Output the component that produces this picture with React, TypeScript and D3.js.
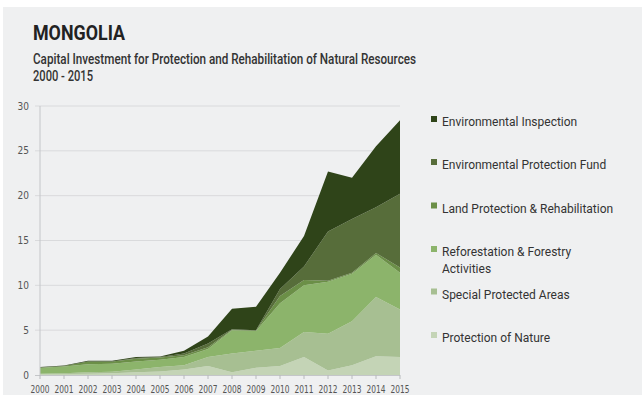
import React from 'react';
import * as d3 from 'd3';

const years = [2000, 2001, 2002, 2003, 2004, 2005, 2006, 2007, 2008, 2009, 2010, 2011, 2012, 2013, 2014, 2015];
const protectionOfNature = [0.1, 0.1, 0.15, 0.2, 0.3, 0.4, 0.6, 1.0, 0.3, 0.8, 1.0, 2.0, 0.5, 1.1, 2.1, 2.0];
const specialProtectedAreas = [0.05, 0.1, 0.15, 0.15, 0.3, 0.5, 0.5, 1.0, 2.1, 1.9, 2.0, 2.8, 4.1, 4.9, 6.6, 5.3];
const reforestation = [0.65, 0.75, 0.9, 0.9, 0.9, 0.8, 0.9, 0.9, 2.6, 2.2, 5.0, 5.2, 5.8, 5.3, 4.7, 4.1];
const landProtection = [0.05, 0.05, 0.3, 0.25, 0.3, 0.25, 0.2, 0.2, 0.05, 0.05, 0.8, 0.6, 0.1, 0.1, 0.2, 0.6];
const protectionFund = [0, 0, 0, 0, 0.1, 0.05, 0.2, 0.4, 0.05, 0.05, 0.8, 1.5, 5.5, 6.0, 5.1, 8.2];
const inspection = [0.05, 0.05, 0.1, 0.1, 0.1, 0.05, 0.3, 0.8, 2.3, 2.6, 1.8, 3.4, 6.7, 4.6, 6.8, 8.2];

const yTicks = [0, 5, 10, 15, 20, 25, 30];

// bottom -> top
const seriesKeys = ['nature', 'special', 'reforest', 'land', 'fund', 'inspection'];
const seriesColors = ['#c4d4b6', '#a7bf92', '#8cb46b', '#6b8f47', '#576d3a', '#2f4419'];
// legend, top -> bottom
const legendLabels = [
  ['Environmental Inspection'],
  ['Environmental Protection Fund'],
  ['Land Protection & Rehabilitation'],
  ['Reforestation & Forestry', 'Activities'],
  ['Special Protected Areas'],
  ['Protection of Nature'],
];
const legendColors = ['#2f4419', '#576d3a', '#6b8f47', '#8cb46b', '#a7bf92', '#c4d4b6'];

export default function App() {
  const W = 642;
  const H = 395;
  const x = d3.scaleLinear().domain([2000, 2015]).range([40, 400]);
  const y = d3.scaleLinear().domain([0, 30]).range([375, 106]);

  const rows = years.map((yr, i) => ({
    year: yr,
    nature: protectionOfNature[i],
    special: specialProtectedAreas[i],
    reforest: reforestation[i],
    land: landProtection[i],
    fund: protectionFund[i],
    inspection: inspection[i],
  }));
  const stacked = d3.stack<any>().keys(seriesKeys)(rows);
  const area = d3
    .area<any>()
    .x((d: any) => x(d.data.year))
    .y0((d: any) => y(d[0]))
    .y1((d: any) => y(d[1]));

  const sans = 'Roboto, "Noto Sans", sans-serif';
  const narrow = '"Liberation Sans Narrow", "DejaVu Sans Condensed", Roboto, sans-serif';
  const legendY = [116, 159, 202.5, 246, 288.5, 332];

  return (
    <svg
      width={W}
      height={H}
      style={{ position: 'absolute', left: 0, top: 0, display: 'block' }}
    >
      <rect x={0} y={0} width={W} height={H} fill="#ffffff" />
      <rect x={3} y={7} width={W - 3} height={H - 7} fill="#eff0f1" />

      <text x={33} y={40} fontFamily={sans} fontWeight={700} fontSize={21} fill="#222" textLength={92} lengthAdjust="spacingAndGlyphs">
        MONGOLIA
      </text>
      <text x={33} y={63.5} fontFamily={sans} fontWeight={500} fontSize={14} fill="#333" textLength={383} lengthAdjust="spacingAndGlyphs">
        Capital Investment for Protection and Rehabilitation of Natural Resources
      </text>
      <text x={33} y={80.5} fontFamily={sans} fontWeight={500} fontSize={14} fill="#333" textLength={60} lengthAdjust="spacingAndGlyphs">
        2000 - 2015
      </text>

      {/* gridlines */}
      {yTicks.filter((t) => t > 0).map((t) => (
        <line key={'g' + t} x1={35} x2={400} y1={y(t)} y2={y(t)} stroke="#d9dadc" strokeWidth={1} />
      ))}
      {yTicks.map((t) => (
        <text key={'yl' + t} x={29} y={y(t) + 3.5} textAnchor="end" fontFamily={narrow} fontSize={10} fill="#555">
          {t}
        </text>
      ))}

      {/* areas */}
      {stacked.map((s, i) => (
        <path key={s.key} d={area(s as any) || ''} fill={seriesColors[i]} />
      ))}

      {/* axes */}
      <line x1={40} x2={40} y1={106} y2={375} stroke="#c4c6c9" strokeWidth={1} />
      <line x1={35} x2={400} y1={375.5} y2={375.5} stroke="#c4c6c9" strokeWidth={1} />
      {years.map((yr) => (
        <g key={'x' + yr}>
          <line x1={x(yr)} x2={x(yr)} y1={375} y2={379} stroke="#b8babd" strokeWidth={1} />
          <text x={x(yr) - 9.5} y={392.5} fontFamily={narrow} fontSize={11} fill="#555" textLength={19} lengthAdjust="spacingAndGlyphs">
            {yr}
          </text>
        </g>
      ))}

      {/* legend */}
      {legendLabels.map((lines, i) => (
        <g key={'lg' + i}>
          <rect x={431} y={legendY[i]} width={6} height={6} fill={legendColors[i]} />
          {lines.map((ln, j) => (
            <text key={j} x={442} y={legendY[i] + 10 + j * 17} fontFamily={sans} fontSize={12} fill="#333">
              {ln}
            </text>
          ))}
        </g>
      ))}
    </svg>
  );
}
